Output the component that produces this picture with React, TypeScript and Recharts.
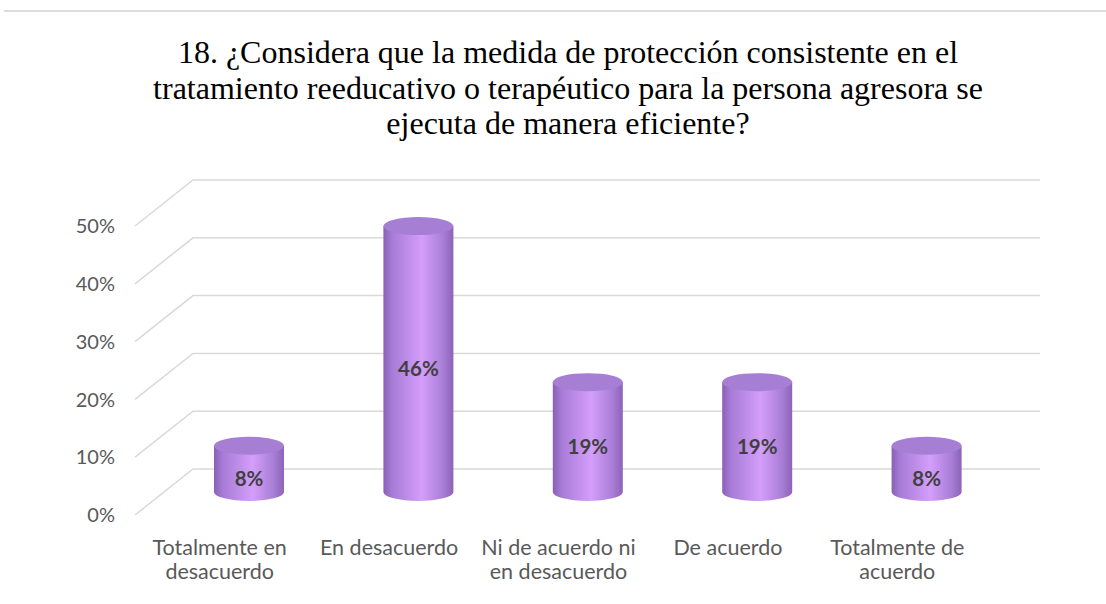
import React from 'react';
import { BarChart, Bar, XAxis, YAxis, CartesianGrid } from 'recharts';

const categories = [
  'Totalmente en\ndesacuerdo',
  'En desacuerdo',
  'Ni de acuerdo ni\nen desacuerdo',
  'De acuerdo',
  'Totalmente de\nacuerdo',
];
const values = [8, 46, 19, 19, 8];
const yTicks = [0, 10, 20, 30, 40, 50];
const titleLines = [
  '18. ¿Considera que la medida de protección consistente en el',
  'tratamiento reeducativo o terapéutico para la persona agresora se',
  'ejecuta de manera eficiente?',
];

const data = categories.map((name, i) => ({ name, val: values[i] }));

// depth offsets of the fake 3D box
const DEPTH_X = 58;
const DEPTH_Y = -46;
const BACK_RIGHT = 1040;
const FONT = "Lato, 'Noto Sans', sans-serif";

const gridLine = (props: any) => {
  const { x1, y1 } = props;
  const d = `M${x1},${y1} L${x1 + DEPTH_X},${y1 + DEPTH_Y} L${BACK_RIGHT},${y1 + DEPTH_Y}`;
  return <path key={`g-${y1}`} d={d} fill="none" stroke="#d9d9d9" strokeWidth={1.5} />;
};

const Cylinder = (props: any) => {
  const { x, y, width, height, value } = props;
  const rx = width / 2;
  const ry = 9;
  const cx = x + rx + DEPTH_X / 2;
  const yt = y + DEPTH_Y / 2;
  const yb = y + height + DEPTH_Y / 2;
  const body = `M${cx - rx},${yt} L${cx - rx},${yb} A${rx},${ry} 0 0 0 ${cx + rx},${yb} L${cx + rx},${yt} Z`;
  return (
    <g>
      <path d={body} fill="url(#cylSide)" />
      <ellipse cx={cx} cy={yt} rx={rx} ry={ry} fill="#a67fd5" />
      <text
        x={cx}
        y={(yt + yb) / 2 + 17}
        textAnchor="middle"
        fontFamily={FONT}
        fontWeight="bold"
        fontSize={20.5}
        fill="#404040"
      >
        {value}%
      </text>
    </g>
  );
};

const XTick = (props: any) => {
  const { x, y, payload } = props;
  const lines = String(payload.value).split('\n');
  return (
    <g>
      {lines.map((ln, i) => (
        <text
          key={i}
          x={x}
          y={y + 40 + i * 23.5}
          textAnchor="middle"
          fontFamily={FONT}
          fontSize={21.5}
          fill="#595959"
        >
          {ln}
        </text>
      ))}
    </g>
  );
};

export default function App() {
  return (
    <div style={{ position: 'absolute', left: 0, top: 0, width: 1106, height: 604, background: '#fff' }}>
      <div style={{ position: 'absolute', left: 4, right: 0, top: 10, height: 2, background: '#dcdcdc' }} />
      <div style={{ position: 'absolute', left: 0, top: 0 }}>
        <BarChart
          width={1106}
          height={604}
          data={data}
          margin={{ top: 226, right: 124, bottom: 0, left: 0 }}
          barSize={70}
        >
          <defs>
            <linearGradient id="cylSide" x1="0" y1="0" x2="1" y2="0">
              <stop offset="0" stopColor="#8a5fb5" />
              <stop offset="0.12" stopColor="#a67bd6" />
              <stop offset="0.55" stopColor="#d49efa" />
              <stop offset="0.85" stopColor="#a97ed6" />
              <stop offset="1" stopColor="#8d63b8" />
            </linearGradient>
          </defs>
          <text
            x={568}
            y={0}
            textAnchor="middle"
            style={{ fontFamily: "'Liberation Serif', 'Times New Roman', serif" }}
            fontSize={32}
            fill="#000"
          >
            {titleLines.map((t, i) => (
              <tspan key={i} x={568} y={63 + i * 35.5}>
                {t}
              </tspan>
            ))}
          </text>
          <CartesianGrid horizontal={gridLine} vertical={false} />
          <XAxis
            dataKey="name"
            axisLine={false}
            tickLine={false}
            tickSize={0}
            tickMargin={0}
            height={89}
            interval={0}
            tick={<XTick />}
          />
          <YAxis
            type="number"
            domain={[0, 50]}
            ticks={yTicks}
            width={135}
            axisLine={false}
            tickLine={false}
            tickSize={0}
            tickMargin={20}
            tickFormatter={(v: number) => `${v}%`}
            tick={{ fill: '#595959', fontSize: 20, fontFamily: FONT }}
          />
          <Bar dataKey="val" isAnimationActive={false} shape={<Cylinder />} />
        </BarChart>
      </div>
    </div>
  );
}
